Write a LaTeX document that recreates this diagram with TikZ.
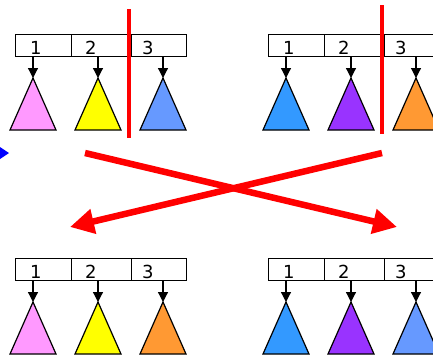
\documentclass[tikz,border=0pt]{standalone}
\usepackage{fontspec}
\setmainfont{DejaVu Sans}
\usetikzlibrary{arrows.meta}
\definecolor{pinkfill}{HTML}{FF99FF}
\definecolor{yellowfill}{HTML}{FFFF00}
\definecolor{skyfill}{HTML}{6699FF}
\definecolor{azurefill}{HTML}{3399FF}
\definecolor{violetfill}{HTML}{9933FF}
\definecolor{orangefill}{HTML}{FF9933}
\begin{document}
\begin{tikzpicture}[x=1pt, y=-1pt,
  cell/.style={draw, line width=1.2pt, minimum height=22pt, inner sep=0pt, anchor=north west},
  num/.style={font=\fontsize{18}{18}\selectfont, anchor=base west, inner sep=0pt},
  ptr/.style={-{Triangle[width=10pt,length=10pt]}, line width=1.2pt},
  tree/.style={draw, line width=1.2pt},
  cut/.style={red, line width=3.5pt},
  swap/.style={red, line width=6.5pt, -{Triangle[width=24pt,length=24pt]}}
]
\useasboundingbox (0,0) rectangle (433,354);
% four arrays, each with three subtrees
\foreach \r/\dx/\dy/\ca/\cb/\cc in {tl/0/0/pinkfill/yellowfill/skyfill,
    tr/253/0/azurefill/violetfill/orangefill,
    bl/0/224/pinkfill/yellowfill/orangefill,
    br/253/224/azurefill/violetfill/skyfill}{
  \node[cell, minimum width=56pt] (\r1) at (15+\dx,34+\dy) {};
  \node[cell, minimum width=60pt] (\r2) at (71+\dx,34+\dy) {};
  \node[cell, minimum width=55pt] (\r3) at (131+\dx,34+\dy) {};
  \node[num] at ([xshift=15pt, yshift=3pt]\r1.south west) {1};
  \node[num] at ([xshift=14pt, yshift=3pt]\r2.south west) {2};
  \node[num] at ([xshift=11pt, yshift=3pt]\r3.south west) {3};
  \coordinate (\r t1) at (33+\dx,78+\dy);
  \coordinate (\r t2) at (98+\dx,78+\dy);
  \coordinate (\r t3) at (163+\dx,78+\dy);
  \draw[tree, fill=\ca] (\r t1) -- ++(23,52) -- ++(-46,0) -- cycle;
  \draw[tree, fill=\cb] (\r t2) -- ++(23,52) -- ++(-46,0) -- cycle;
  \draw[tree, fill=\cc] (\r t3) -- ++(23,52) -- ++(-46,0) -- cycle;
  \draw[ptr] (\r1.south -| \r t1) -- (\r t1);
  \draw[ptr] (\r2.south -| \r t2) -- (\r t2);
  \draw[ptr] (\r3.south -| \r t3) -- (\r t3);
}
% split lines
\coordinate (cutla) at (129,9);
\coordinate (cutlb) at (129,138);
\coordinate (cutra) at (382,5);
\coordinate (cutrb) at (382,134);
\draw[cut] (cutla) -- (cutlb);
\draw[cut] (cutra) -- (cutrb);
% crossing arrows
\coordinate (sa) at (85,153);
\coordinate (sb) at (382,153);
\coordinate (ta) at (397,227);
\coordinate (tb) at (70,227);
\draw[swap] (sa) -- (ta);
\draw[swap] (sb) -- (tb);
\fill[blue] (0,147) -- (9,153) -- (0,159) -- cycle;
\end{tikzpicture}
\end{document}
